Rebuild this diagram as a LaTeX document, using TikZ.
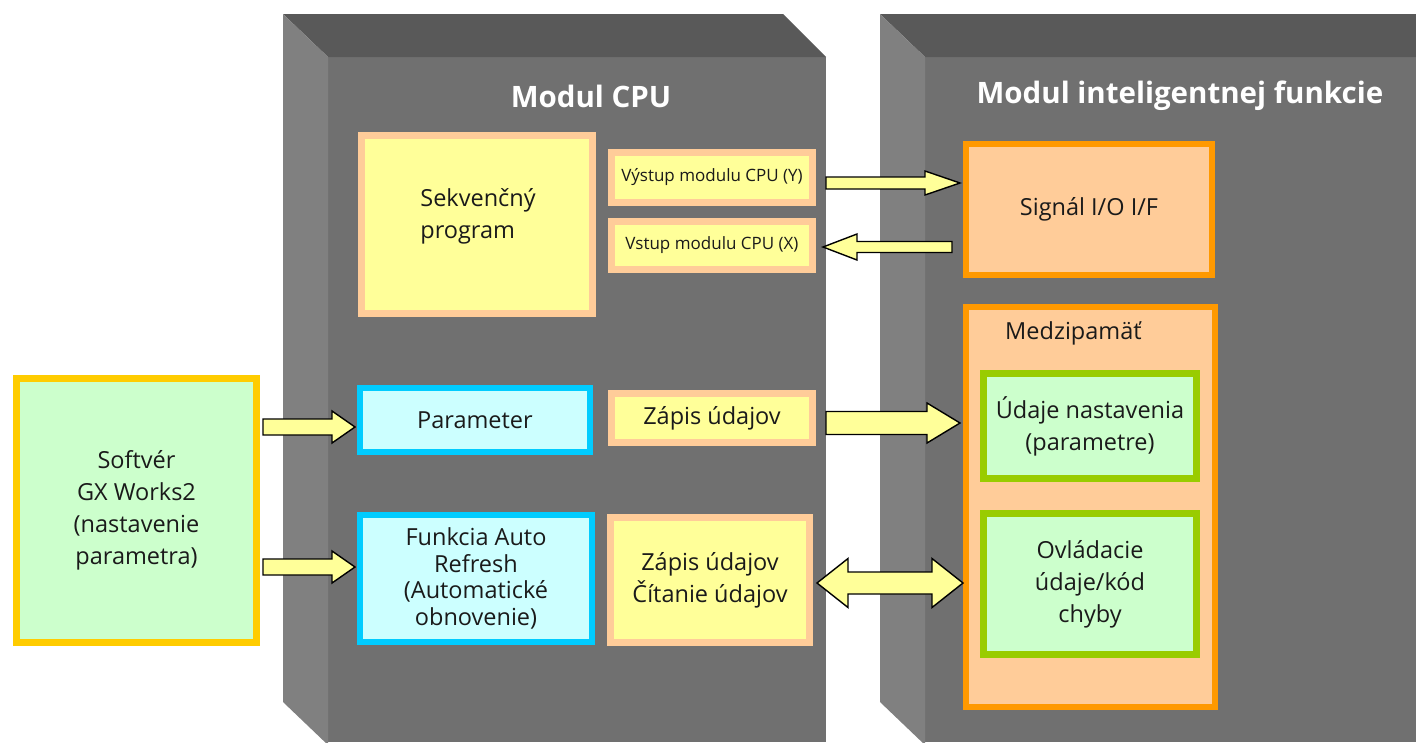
\documentclass[tikz,border=0pt]{standalone}
\usepackage{fontspec}
\setmainfont{Open Sans}
\usetikzlibrary{calc}

\definecolor{facefront}{HTML}{707070}
\definecolor{facetop}{HTML}{595959}
\definecolor{faceside}{HTML}{808080}
\definecolor{lemon}{HTML}{FFFF99}
\definecolor{peach}{HTML}{FFCC99}
\definecolor{orangeb}{HTML}{FF9900}
\definecolor{mint}{HTML}{CCFFCC}
\definecolor{leaf}{HTML}{99CC00}
\definecolor{skyb}{HTML}{00CCFF}
\definecolor{icefill}{HTML}{CCFFFF}
\definecolor{goldb}{HTML}{FFCC00}
\definecolor{ink}{HTML}{1A1A1A}

\begin{document}
\begin{tikzpicture}[x=1pt,y=-1pt,
  every node/.style={inner sep=0pt, align=center, text=ink},
  bigtxt/.style={font=\fontsize{23.5}{32}\selectfont},
  tighttxt/.style={font=\fontsize{23.5}{26.5}\selectfont},
  smalltxt/.style={font=\fontsize{17}{22}\selectfont},
  title/.style={font=\fontsize{29.5}{34}\selectfont\bfseries, text=white},
  yellowbox/.style={draw=peach, fill=lemon, line width=7pt},
  signalbox/.style={draw=orangeb, fill=peach, line width=6pt},
  databox/.style={draw=leaf, fill=mint, line width=7pt},
  cpubox/.style={draw=skyb, fill=icefill, line width=6pt},
  softbox/.style={draw=goldb, fill=mint, line width=7pt},
  size/.style n args={2}{minimum width=#1, minimum height=#2},
  arrowlook/.style={draw=black, fill=lemon, line width=1.4pt, line join=miter},
  % single-headed block arrow: half shaft, half head, head length
  fat/.style n args={3}{arrowlook, to path={
    let \p1=(\tikztostart), \p2=(\tikztotarget),
        \n1={ifthenelse(\x2>\x1,1,-1)} in
    (\x1,\y1+#1) -- (\x2-\n1*#3,\y1+#1) -- (\x2-\n1*#3,\y1+#2) -- (\x2,\y1)
    -- (\x2-\n1*#3,\y1-#2) -- (\x2-\n1*#3,\y1-#1) -- (\x1,\y1-#1) -- cycle}},
  % double-headed block arrow
  fatboth/.style n args={3}{arrowlook, to path={
    let \p1=(\tikztostart), \p2=(\tikztotarget),
        \n1={ifthenelse(\x2>\x1,1,-1)} in
    (\x1,\y1) -- (\x1+\n1*#3,\y1+#2) -- (\x1+\n1*#3,\y1+#1)
    -- (\x2-\n1*#3,\y1+#1) -- (\x2-\n1*#3,\y1+#2) -- (\x2,\y1)
    -- (\x2-\n1*#3,\y1-#2) -- (\x2-\n1*#3,\y1-#1)
    -- (\x1+\n1*#3,\y1-#1) -- (\x1+\n1*#3,\y1-#2) -- cycle}},
]
\useasboundingbox (0,0) rectangle (1416,742);
\fill[white] (0,0) rectangle (1416,742);

% CPU module housing
\fill[facefront] (328,57) rectangle (826,742);
\fill[facetop] (283,14) -- (783,14) -- (826,57) -- (328,57) -- cycle;
\fill[faceside] (283,14) -- (328,57) -- (328,745) -- (283,702) -- cycle;

% intelligent function module housing
\fill[facefront] (925,57) rectangle (1416,742);
\fill[facetop] (880,14) -- (1416,14) -- (1416,57) -- (925,57) -- cycle;
\fill[faceside] (880,14) -- (925,57) -- (925,745) -- (880,702) -- cycle;

\node[title] (cputitle) at (591,96) {Modul CPU};
\node[title] (iftitle) at (1180,96) {Modul inteligentnej funkcie};

% CPU module contents
\node[yellowbox, size={231pt}{178pt}] (seq) at (477,224.5) {};
\node[bigtxt, align=left] (seqtext) at (478,216) {Sekvenčný\\program};
\node[yellowbox, smalltxt, size={201pt}{50pt}] (out) at (712,177.5) {Výstup modulu CPU (Y)};
\node[yellowbox, smalltxt, size={201pt}{48pt}] (in) at (712,245.5) {Vstup modulu CPU (X)};
\node[cpubox, bigtxt, size={230pt}{64pt}] (param) at (475,420) {Parameter};
\node[cpubox, tighttxt, size={232pt}{127pt}] (refresh) at (476,578.5) {Funkcia Auto\\Refresh\\(Automatické\\obnovenie)};
\node[yellowbox, bigtxt, size={201pt}{49pt}] (wr) at (712,418) {Zápis údajov};
\node[yellowbox, bigtxt, size={199pt}{125pt}] (rw) at (710,580) {Zápis údajov\\Čítanie údajov};

% intelligent function module contents
\node[signalbox, bigtxt, size={246pt}{131pt}] (sig) at (1089,209.5) {Signál I/O I/F};
\node[signalbox, size={249pt}{400pt}] (buf) at (1090.5,507) {};
\node[bigtxt, anchor=west] (buflabel) at (1005,333) {Medzipamäť};
\node[databox, bigtxt, size={213pt}{105pt}] (set) at (1090,426) {Údaje nastavenia\\(parametre)};
\node[databox, bigtxt, size={213pt}{141pt}] (ctl) at (1090,584) {Ovládacie\\údaje/kód\\chyby};

% engineering software
\node[softbox, bigtxt, size={240pt}{264pt}] (soft) at (136.5,510.5) {Softvér\\GX Works2\\(nastavenie\\parametra)};

% data flow arrows
\draw[fat={6pt}{12pt}{35pt}] ([shift={(10,5.5)}]out.east) to ([xshift=-3pt]sig.west);
\draw[fat={5.5pt}{13pt}{34pt}] ([shift={(-11,37.5)}]sig.west) to ([xshift=7pt]in.east);
\draw[fat={11.5pt}{20pt}{33pt}] ([shift={(10,5)}]wr.east) to ([xshift=-3pt]buf.west);
\draw[fatboth={11pt}{24.5pt}{31pt}] ([shift={(4,3)}]rw.east) to (buf.west);
\draw[fat={8pt}{16pt}{23pt}] ([shift={(3,-83.5)}]soft.east) to ([xshift=-2pt]param.west);
\draw[fat={8pt}{16pt}{23pt}] ([shift={(3,56.5)}]soft.east) to ([xshift=-2pt]refresh.west);
\end{tikzpicture}
\end{document}
